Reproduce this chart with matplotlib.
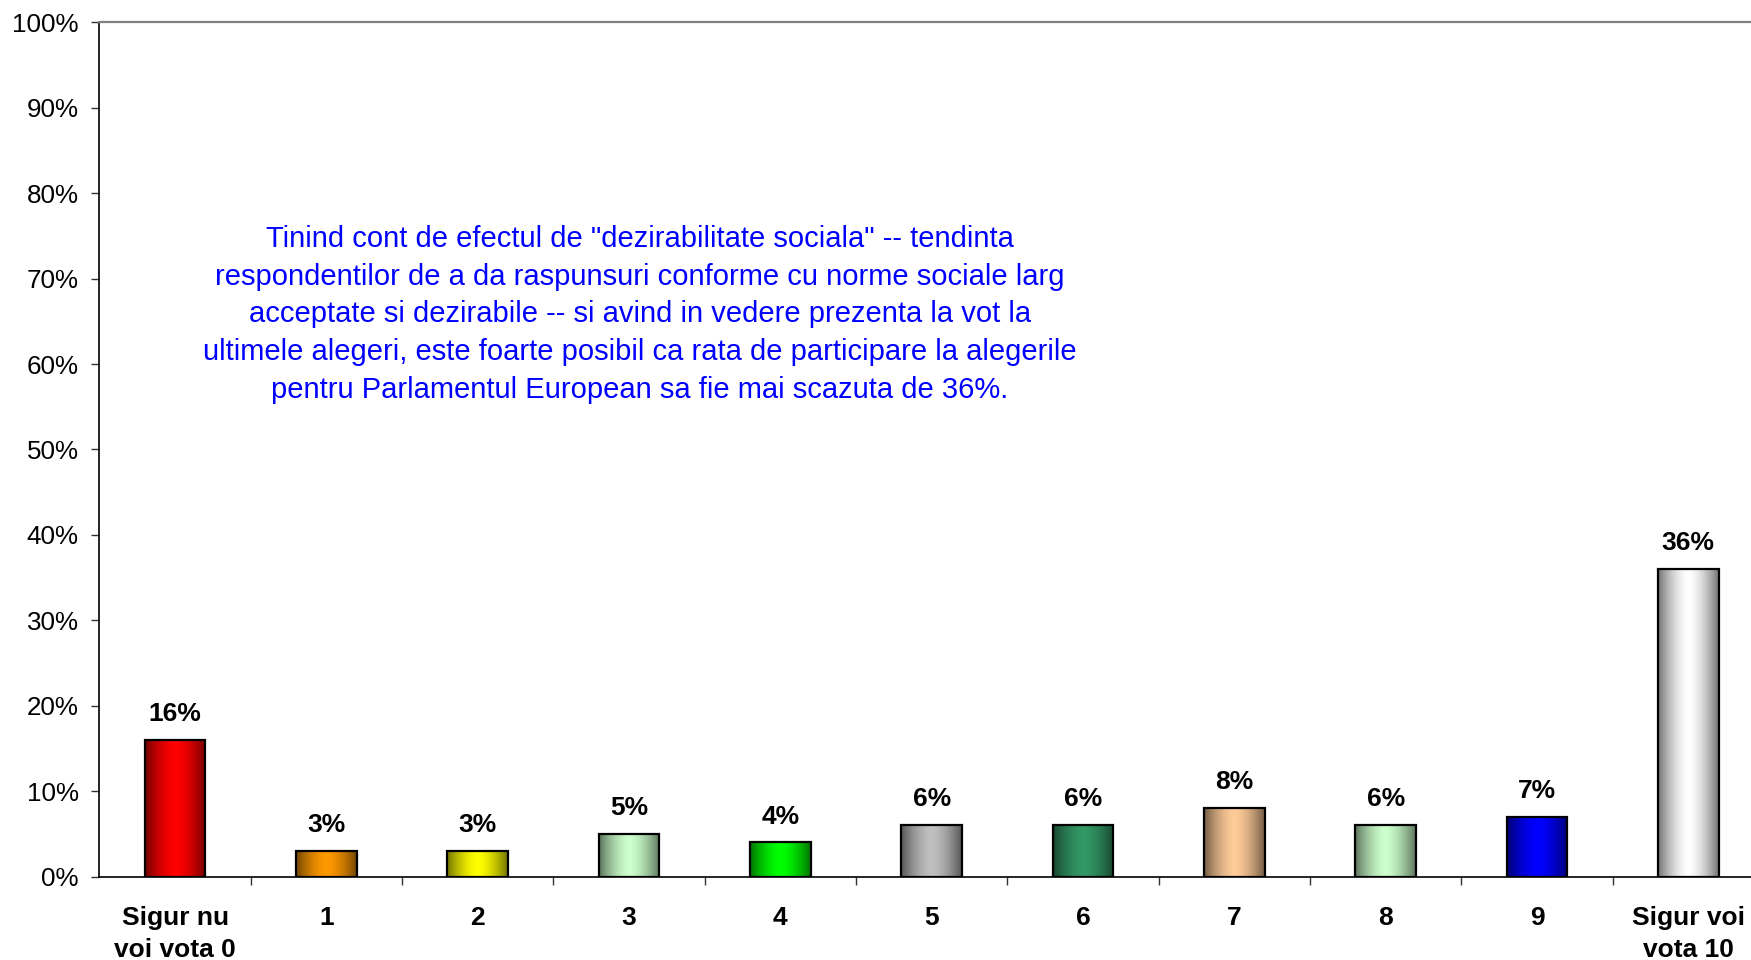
import numpy as np
import matplotlib
matplotlib.use("Agg")
import matplotlib.pyplot as plt
from matplotlib.colors import to_rgb

plt.rcParams['font.family'] = ['Liberation Sans', 'DejaVu Sans']

categories = ["Sigur nu\nvoi vota 0", "1", "2", "3", "4", "5", "6", "7", "8", "9", "Sigur voi\nvota 10"]
values = [16, 3, 3, 5, 4, 6, 6, 8, 6, 7, 36]
bar_colors = ["#FF0000", "#FF9900", "#FFFF00", "#CCFFCC", "#00FF00", "#C0C0C0",
              "#339966", "#FFCC99", "#CCFFCC", "#0000FF", "#FFFFFF"]
yticks = [0, 10, 20, 30, 40, 50, 60, 70, 80, 90, 100]
ytick_labels = [f"{v}%" for v in yticks]
note = ('Tinind cont de efectul de "dezirabilitate sociala" -- tendinta\n'
        'respondentilor de a da raspunsuri conforme cu norme sociale larg\n'
        'acceptate si dezirabile -- si avind in vedere prezenta la vot la\n'
        'ultimele alegeri, este foarte posibil ca rata de participare la alegerile\n'
        'pentru Parlamentul European sa fie mai scazuta de 36%.')

W, H = 1751, 960
fig = plt.figure(figsize=(W / 100, H / 100), dpi=100)
ax = fig.add_axes([99.4 / W, (H - 876.6) / H, (1764 - 99.4) / W, (876.6 - 22.3) / H])

x = np.arange(len(categories))
bars = ax.bar(x, values, width=0.4, color='none', edgecolor='black', linewidth=1.6, zorder=3)

t = np.linspace(0, 1, 200)
shade = 1 - np.abs(2 * t - 1) ** 1.6
for b, c in zip(bars, bar_colors):
    base = np.array(to_rgb(c))
    if c.upper() == "#FFFFFF":
        dark = np.array([0.45, 0.45, 0.45])
    else:
        dark = base * 0.45
    img = dark[None, :] + (base - dark)[None, :] * shade[:, None]
    img = img[None, :, :]
    x0, y0 = b.get_x(), b.get_y()
    w, h = b.get_width(), b.get_height()
    im = ax.imshow(img, extent=[x0, x0 + w, y0, y0 + h], aspect='auto', zorder=2,
                   interpolation='bilinear')
    im.set_clip_path(b)

for xi, v in zip(x, values):
    ax.annotate(f"{v}%", (xi, v), xytext=(0, 10), textcoords='offset points',
                ha='center', va='bottom', fontsize=19, fontweight='bold', color='black')

ax.set_xlim(-0.5, 10.5)
ax.set_ylim(0, 100)
ax.set_yticks(yticks)
ax.set_yticklabels(ytick_labels, fontsize=18.7)
ax.set_xticks(x)
ax.set_xticklabels(categories, fontsize=19, fontweight='bold', linespacing=1.42)
ax.set_xticks(np.arange(0.5, 11, 1), minor=True)
ax.tick_params(axis='x', which='major', length=0, pad=21)
ax.tick_params(axis='x', which='minor', length=6, width=1, direction='out', color='#333333')
ax.tick_params(axis='y', length=6, width=1, pad=9, color='#333333')

ax.spines['top'].set_color('#808080')
ax.spines['top'].set_linewidth(1.6)
ax.spines['right'].set_visible(False)
ax.spines['left'].set_color('black')
ax.spines['bottom'].set_color('black')
ax.spines['left'].set_linewidth(1.2)
ax.spines['bottom'].set_linewidth(1.2)

ax.text(3.07, 65.8, note, ha='center', va='center', fontsize=21, color='#0000FF',
        linespacing=1.44)

fig.savefig("out.png", dpi=100)
